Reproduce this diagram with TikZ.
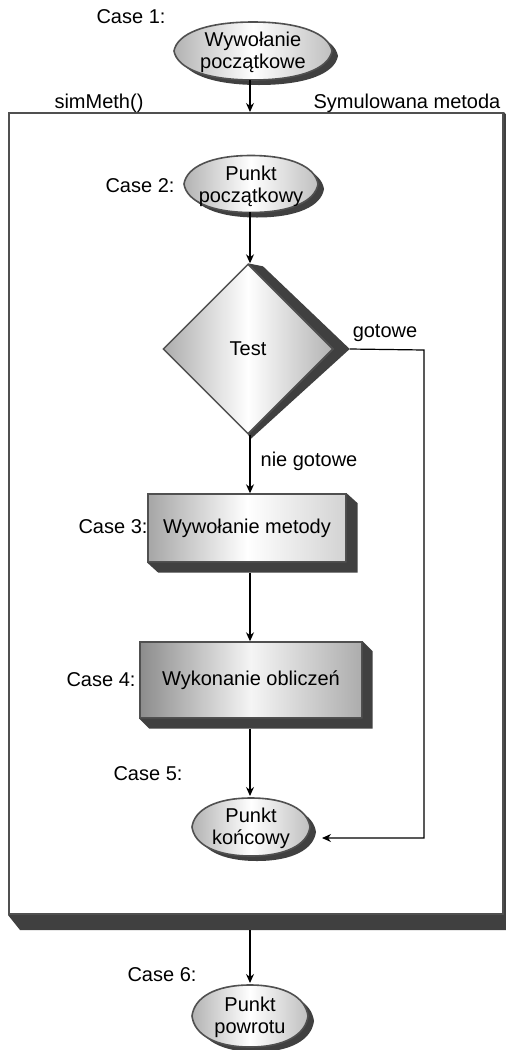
\documentclass[tikz,border=0pt]{standalone}
\usepackage{fontspec}
\setmainfont{Liberation Sans}
\usetikzlibrary{shapes.geometric,calc,arrows.meta}
\definecolor{shd}{HTML}{404040}
\definecolor{edge}{HTML}{505050}
% oval with slightly pointed ends, half axes #1 and #2, centred on the origin
\newcommand{\lenspath}[2]{(-#1,0) .. controls (-0.96*#1,-0.6*#2) and (-0.6*#1,-#2) .. (0,-#2)
  .. controls (0.6*#1,-#2) and (0.96*#1,-0.6*#2) .. (#1,0)
  .. controls (0.96*#1,0.6*#2) and (0.6*#1,#2) .. (0,#2)
  .. controls (-0.6*#1,#2) and (-0.96*#1,0.6*#2) .. (-#1,0) -- cycle}
% shadowed, shaded oval around the point #1
\newcommand{\ovalaround}[3]{%
  \begin{scope}[shift={(#1)}]
    \fill[shd, shift={(6,5)}] \lenspath{#2}{#3};
    \draw[draw=edge, line width=1.6pt, left color=gray!60, right color=gray!50, middle color=white] \lenspath{#2}{#3};
  \end{scope}}
\begin{document}
\begin{tikzpicture}[x=1pt,y=-1pt,
  every node/.style={font=\fontsize{20}{22}\selectfont},
  lbl/.style={inner sep=0pt},
  txt/.style={inner sep=0pt, align=center},
  diam/.style={diamond, draw=edge, line width=1.4pt, inner sep=0pt,
    minimum width=170pt, minimum height=170pt,
    left color=gray!65, right color=gray!60, middle color=white},
  stepbox/.style={rectangle, draw=edge, line width=1.4pt, inner sep=0pt},
  frame/.style={rectangle, draw=edge, line width=2pt, fill=white, inner sep=0pt},
  arr/.style={line width=1.2pt, -{Stealth[length=9pt,width=8pt]}},
]
\useasboundingbox (0,0) rectangle (506,1050);

% method frame with its extruded shadow
\node[frame, minimum width=494pt, minimum height=801pt] (meth) at (256,513.5) {};
\fill[shd] (meth.south west) -- ++(12,15) -- ($(meth.south east)+(12,15)$)
  -- ($(meth.north east)+(12,15)$) -- (meth.north east) -- (meth.south east) -- cycle;
\node[lbl] (methname) at (99,103) {simMeth()};
\node[lbl] (methdesc) at (407,103) {Symulowana metoda};

% initial call
\node[lbl] (c1) at (131,17) {Case 1:};
\coordinate (call0c) at (253,51);
\ovalaround{call0c}{79}{29}
\node[txt] (call0) at (253,52) {Wywołanie\\początkowe};
\coordinate (call0b) at (250,80);

% start point
\node[lbl] (c2) at (140,186) {Case 2:};
\coordinate (startc) at (251,184);
\ovalaround{startc}{67}{28.5}
\node[txt] (start) at (251,186) {Punkt\\początkowy};
\coordinate (startb) at (250,212);

% test
\node[diam] (test) at (248,349) {};
\fill[shd] (test.north) -- ($(test.north)+(15,3)$) -- ($(test.east)+(16,0)$)
  -- ($(test.south)+(3,4)$) -- (test.south) -- (test.east) -- cycle;
\node[lbl] (testt) at (test) {Test};
\node[lbl] (done) at (385,333) {gotowe};
\node[lbl] (notdone) at (309,461) {nie gotowe};

% method call
\node[lbl] (c3) at (113,527) {Case 3:};
\node[stepbox, minimum width=198pt, minimum height=68pt,
  left color=gray!70, right color=gray!35, middle color=white] (call) at (247,528) {};
\fill[shd] (call.south west) -- ++(11,10) -- ($(call.south east)+(11,10)$)
  -- ($(call.north east)+(11,10)$) -- (call.north east) -- (call.south east) -- cycle;
\node[lbl] (callt) at (call) {Wywołanie metody};

% computation
\node[lbl] (c4) at (101,680) {Case 4:};
\node[stepbox, minimum width=222pt, minimum height=76pt,
  left color=gray!90, right color=gray!65, middle color=gray!8] (calc) at (251,680) {};
\fill[shd] (calc.south west) -- ++(10,10) -- ($(calc.south east)+(10,10)$)
  -- ($(calc.north east)+(10,10)$) -- (calc.north east) -- (calc.south east) -- cycle;
\node[lbl] (calct) at (calc) {Wykonanie obliczeń};

% end point
\node[lbl] (c5) at (148,774) {Case 5:};
\coordinate (finc) at (251,827);
\ovalaround{finc}{59}{29}
\node[txt] (fin) at (251,828) {Punkt\\końcowy};
\coordinate (fint) at (250,796);
\coordinate (finin) at (322,838);

% return point
\node[lbl] (c6) at (162,975) {Case 6:};
\coordinate (retc) at (250,1016);
\ovalaround{retc}{58}{31}
\node[txt] (ret) at (250,1017) {Punkt\\powrotu};
\coordinate (rett) at (250,983);

% connectors
\coordinate (rail) at (424,350);
\draw[arr] (call0b) -- (call0b |- meth.north);
\draw[arr] (startb) -- (startb |- test.north);
\draw[arr] (startb |- test.south) -- (startb |- call.north);
\draw[arr] (startb |- call.south) ++(0,10) -- (startb |- calc.north);
\draw[arr] (startb |- calc.south) ++(0,10) -- (fint);
\draw[arr] (startb |- meth.south) ++(0,15) -- (rett);
\draw[arr] ($(test.east)+(16,0)$) -- (rail) -- (rail |- finin) -- (finin);
\end{tikzpicture}
\end{document}
